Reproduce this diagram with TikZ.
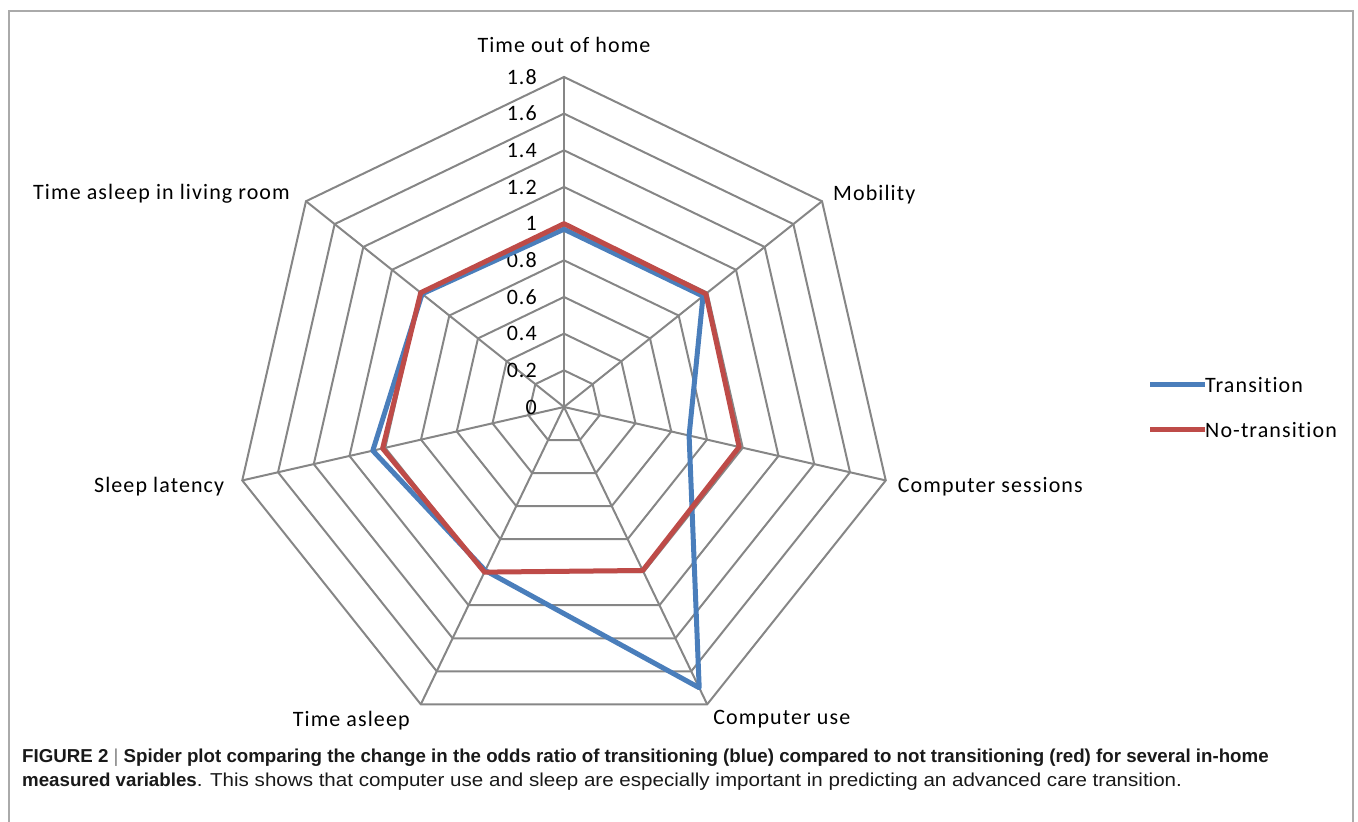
\documentclass[tikz,border=0pt]{standalone}
\usepackage{fontspec}
\setmainfont{Carlito}[LetterSpace=5, Ligatures=NoCommon]
\newfontfamily\capfont{Liberation Sans}
\newfontfamily\capwide{Liberation Sans}[FakeStretch=1.1]
\usetikzlibrary{positioning}
\definecolor{lanse}{RGB}{74,126,187}
\definecolor{hongse}{RGB}{190,75,72}
\definecolor{huise}{RGB}{134,134,134}

\begin{document}
\begin{tikzpicture}[x=1pt,y=1pt]
\tikzset{wang/.style={draw=huise, line width=2pt}}
\tikzset{lan/.style={draw=lanse, line width=5pt, line join=round}}
\tikzset{hong/.style={draw=hongse, line width=5pt, line join=round}}
\tikzset{zi/.style={font=\fontsize{22}{26}\selectfont, inner sep=0pt}}
\tikzset{kedu/.style={zi, anchor=east}}
\tikzset{shuo/.style={font=\capfont\fontsize{18.7}{24}\selectfont, inner sep=0pt, anchor=base west, color=black!90}}

\useasboundingbox (0,0) rectangle (1358,822);
\draw[huise!70, line width=1.2pt] (9,0) -- (9,811) -- (1353,811) -- (1353,0);

\begin{scope}[shift={(564,415)}]
% grid
\foreach \r in {1,...,9}
  \draw[wang] (90:\r*36.67) \foreach \k in {1,...,6} {-- (90-\k*360/7:\r*36.67)} -- cycle;
\foreach \k in {0,...,6}{
  \coordinate (t\k) at (90-\k*360/7:330);
  \draw[wang] (0,0) -- (t\k);
}
\foreach \v [count=\n from 0] in {0,0.2,0.4,0.6,0.8,1,1.2,1.4,1.6,1.8}
  \node[kedu] (k\n) at (-27,\n*36.67) {\v};

% data
\draw[lan] (90:0.97*183.3) -- (90-360/7:0.97*183.3) -- (90-2*360/7:0.70*183.3)
  -- (90-3*360/7:1.70*183.3) -- (90-4*360/7:0.99*183.3) -- (90-5*360/7:1.07*183.3)
  -- (90-6*360/7:0.99*183.3) -- cycle;
\draw[hong] (90:1.0*183.3) -- (90-360/7:0.99*183.3) -- (90-2*360/7:0.98*183.3)
  -- (90-3*360/7:0.99*183.3) -- (90-4*360/7:1.0*183.3) -- (90-5*360/7:1.015*183.3)
  -- (90-6*360/7:1.0*183.3) -- cycle;
\end{scope}

\node[zi] (n0) at ([yshift=32pt]t0) {Time out of home};
\node[zi, anchor=west] (n1) at ([xshift=11pt, yshift=7pt]t1) {Mobility};
\node[zi, anchor=west] (n2) at ([xshift=12pt, yshift=-6pt]t2) {Computer sessions};
\node[zi, anchor=west] (n3) at ([xshift=6pt, yshift=-15pt]t3) {Computer use};
\node[zi, anchor=east] (n4) at ([xshift=-11pt, yshift=-16pt]t4) {Time asleep};
\node[zi, anchor=east] (n5) at ([xshift=-18pt, yshift=-6pt]t5) {Sleep latency};
\node[zi, anchor=east] (n6) at ([xshift=-16pt, yshift=7pt]t6) {Time asleep in living room};

% legend
\coordinate (l1) at (1150,437);
\node[zi, anchor=west] (l1t) at (1205,437) {Transition};
\coordinate (l2) at (1150,392);
\node[zi, anchor=west] (l2t) at (1205,392) {No-transition};
\path[lan] (l1) -- (l1t.west);
\path[hong] (l2) -- (l2t.west);

% caption
\node[shuo] (c1) at (22,59) {\textbf{FIGURE 2} {\color{black!50}|} \textbf{Spider plot comparing the change in the odds ratio of transitioning (blue) compared to not transitioning (red) for several in-home}};
\node[shuo] (c2) at (22,35) {\textbf{measured variables}{\capwide. This shows that computer use and sleep are especially important in predicting an advanced care transition.}};
\end{tikzpicture}
\end{document}
